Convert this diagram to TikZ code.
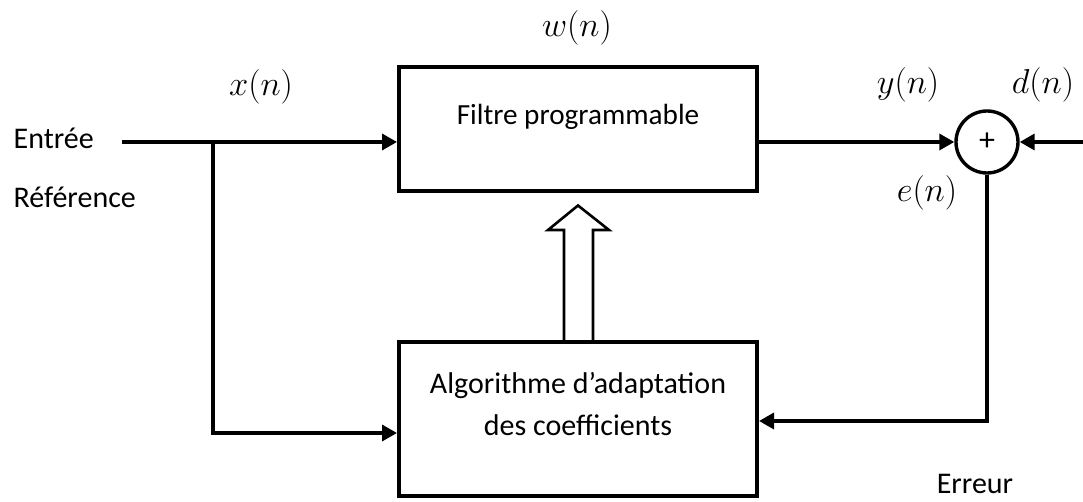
\documentclass[tikz,border=0pt]{standalone}
\usepackage{fontspec}
\setmainfont{Carlito}
\usetikzlibrary{arrows.meta,positioning,calc}

\begin{document}
\begin{tikzpicture}[x=0.5pt,y=-0.5pt,line width=1.7pt,>={Triangle[length=7.5pt,width=8pt]},
  block/.style={draw,line width=2pt,rectangle,minimum width=179pt,inner sep=0pt,align=center},
  lbl/.style={font=\fontsize{17.5}{20}\selectfont},
  txt/.style={font=\fontsize{15}{18}\selectfont,inner sep=0pt}]
  \useasboundingbox (0,0) rectangle (1083,502);
  \node[block,minimum height=62pt,text depth=15pt,font=\fontsize{14.6}{17}\selectfont] (filtre) at (578,129.5) {Filtre programmable};
  \node[block,minimum height=77pt,text depth=15pt,font=\fontsize{15}{21}\selectfont] (algo) at (578,419) {Algorithme d'adaptation\\des coefficients};
  \node[draw,circle,minimum size=31pt,inner sep=0pt,font=\fontsize{16}{18}\selectfont] (sum) at (987,142) {\raisebox{-1.5pt}{+}};
  \draw[line width=1.3pt,fill=white] ($(algo.north)+(-14,0)$) -- ++(0,-110) -- ++(-16,0) -- ($(filtre.south)+(0,12)$)
    -- ($(algo.north)+(31,-110)$) -- ++(-16,0) -- ($(algo.north)+(15,0)$);
  \coordinate (in) at (122,142);
  \coordinate (split) at (213,142);
  \coordinate (xalgo) at (213,433);
  \coordinate (din) at (1083,142);
  \coordinate (ecorner) at (987,421);
  \draw[->] (in) -- (in -| filtre.west);
  \draw[->] (split) -- (xalgo) -- (xalgo -| algo.west);
  \draw[->] (filtre.east |- in) -- (sum.west);
  \draw[->] (din) -- (sum.east);
  \draw[->] (sum.south) -- (ecorner) -- (ecorner -| algo.east);
  \node[txt,anchor=west] (entree) at (12,138) {Entrée};
  \node[txt,anchor=west] (ref) at (12,197) {Référence};
  \node[lbl] (wn) at (577,28) {$w(n)$};
  \node[lbl] (xn) at (261,87) {$x(n)$};
  \node[lbl] (yn) at (908,85) {$y(n)$};
  \node[lbl] (dn) at (1043,85) {$d(n)$};
  \node[lbl] (en) at (927,193) {$e(n)$};
  \node[txt] (erreur) at (975,484) {Erreur};
\end{tikzpicture}
\end{document}
